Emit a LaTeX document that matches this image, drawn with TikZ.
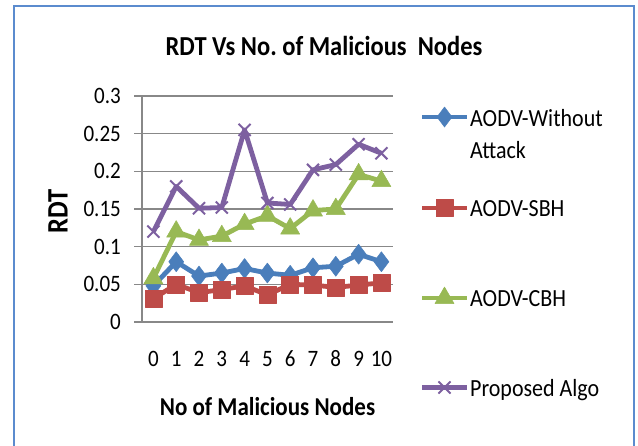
\documentclass[tikz,border=0pt]{standalone}
\usepackage{fontspec}
\setmainfont{Carlito}
\frenchspacing
\usetikzlibrary{plotmarks}
\definecolor{sblue}{HTML}{4A7EBB}
\definecolor{sred}{HTML}{BE4B48}
\definecolor{sgreen}{HTML}{98B954}
\definecolor{spurple}{HTML}{7D60A0}
\definecolor{gridgray}{HTML}{888888}
\definecolor{framebl}{HTML}{5B8BCE}
\newcommand{\tall}[1]{\scalebox{1}[1.12]{#1}}
\tikzset{
  gridln/.style={draw=gridgray, line width=1.4pt},
  frameln/.style={draw=framebl, line width=1.6pt},
  ticklab/.style={font=\fontsize{21}{25}\selectfont, inner sep=0pt},
  leglab/.style={font=\fontsize{22}{26}\selectfont, inner sep=0pt, anchor=base west},
  sblueser/.style={draw=sblue, line width=4.8pt, line join=round, mark=diamond*, mark size=10pt, mark options={fill=sblue, draw=sblue, line width=0.5pt}},
  sredser/.style={draw=sred, line width=4.8pt, line join=round, mark=square*, mark size=8.5pt, mark options={fill=sred, draw=sred, line width=0.5pt}},
  sgreenser/.style={draw=sgreen, line width=4.8pt, line join=round, mark=triangle*, mark size=11pt, mark options={fill=sgreen, draw=sgreen, line width=0.5pt}},
  spurpleser/.style={draw=spurple, line width=4.8pt, line join=round, mark=x, mark size=8.5pt, mark options={draw=spurple, line width=2pt}},
}
\begin{document}
\begin{tikzpicture}[x=1pt,y=-1pt]
\useasboundingbox (0,0) rectangle (638,445);
\clip (0,0) rectangle (638,445);
\fill[white] (0,0) rectangle (638,445);
\draw[frameln] (14,6) rectangle (634,470);
% title
\node[font=\fontsize{24.5}{29}\selectfont\bfseries, inner sep=0pt, anchor=base] (title) at (324,55) {\tall{RDT Vs No. of Malicious\ \ Nodes}};
% grid and axes
\foreach \k/\lab in {0/0,1/0.05,2/0.1,3/0.15,4/0.2,5/0.25,6/0.3}{
  \coordinate (gl\k) at (134,{322-\k*37.667});
  \coordinate (gr\k) at (393,{322-\k*37.667});
  \draw[gridln] (gl\k) -- (gr\k);
  \node[ticklab, anchor=base east] (yt\k) at (121,{329.5-\k*37.667}) {\tall{\lab}};
}
\coordinate (ax0) at (142,322);
\coordinate (ax1) at (142,96.3);
\draw[gridln] (ax0) -- (ax1);
\foreach \i in {0,...,10}{
  \node[ticklab, anchor=base] (xt\i) at ({142+22.8*(\i+0.5)},366) {\tall{\i}};
}
\node[font=\fontsize{23}{27}\selectfont\bfseries, inner sep=0pt, anchor=base] (xlab) at (267.5,415) {\tall{No of Malicious Nodes}};
\node[font=\fontsize{26.5}{30}\selectfont\bfseries, inner sep=0pt, rotate=90] (ylab) at (58,211.5) {\tall{RDT}};
% data
\begin{scope}[shift={(142pt,-322pt)}, x=22.8pt, y=753.3pt]
\draw[sblueser] plot coordinates {(0.5,0.048) (1.5,0.08) (2.5,0.061) (3.5,0.065) (4.5,0.071) (5.5,0.065) (6.5,0.062) (7.5,0.072) (8.5,0.074) (9.5,0.09) (10.5,0.08)};
\draw[sredser] plot coordinates {(0.5,0.031) (1.5,0.05) (2.5,0.039) (3.5,0.043) (4.5,0.048) (5.5,0.036) (6.5,0.05) (7.5,0.049) (8.5,0.046) (9.5,0.049) (10.5,0.052)};
\draw[sgreenser] plot coordinates {(0.5,0.058) (1.5,0.12) (2.5,0.109) (3.5,0.114) (4.5,0.13) (5.5,0.141) (6.5,0.124) (7.5,0.148) (8.5,0.15) (9.5,0.196) (10.5,0.187)};
\draw[spurpleser] plot coordinates {(0.5,0.12) (1.5,0.18) (2.5,0.151) (3.5,0.152) (4.5,0.255) (5.5,0.158) (6.5,0.156) (7.5,0.202) (8.5,0.209) (9.5,0.236) (10.5,0.224)};
\end{scope}
% legend
\coordinate (lb0) at (422,117); \coordinate (lb1) at (467,117);
\draw[sblueser, mark=none] (lb0) -- (lb1);
\path[sblueser, draw=none] plot coordinates {(444.5,117)};
\node[leglab] (leg1) at (470,126) {\tall{AODV-Without}};
\node[leglab] (leg1b) at (470,158.5) {\tall{Attack}};
\coordinate (lr0) at (422,208); \coordinate (lr1) at (467,208);
\draw[sredser, mark=none] (lr0) -- (lr1);
\path[sredser, draw=none] plot coordinates {(444.5,208)};
\node[leglab] (leg2) at (470,216) {\tall{AODV-SBH}};
\coordinate (lg0) at (422,298); \coordinate (lg1) at (467,298);
\draw[sgreenser, mark=none] (lg0) -- (lg1);
\path[sgreenser, draw=none] plot coordinates {(444.5,298)};
\node[leglab] (leg3) at (470,306) {\tall{AODV-CBH}};
\coordinate (lp0) at (422,387.5); \coordinate (lp1) at (467,387.5);
\draw[spurpleser, mark=none] (lp0) -- (lp1);
\path[spurpleser, draw=none] plot coordinates {(444.5,387.5)};
\node[leglab] (leg4) at (470,396) {\tall{Proposed Algo}};
\end{tikzpicture}
\end{document}
